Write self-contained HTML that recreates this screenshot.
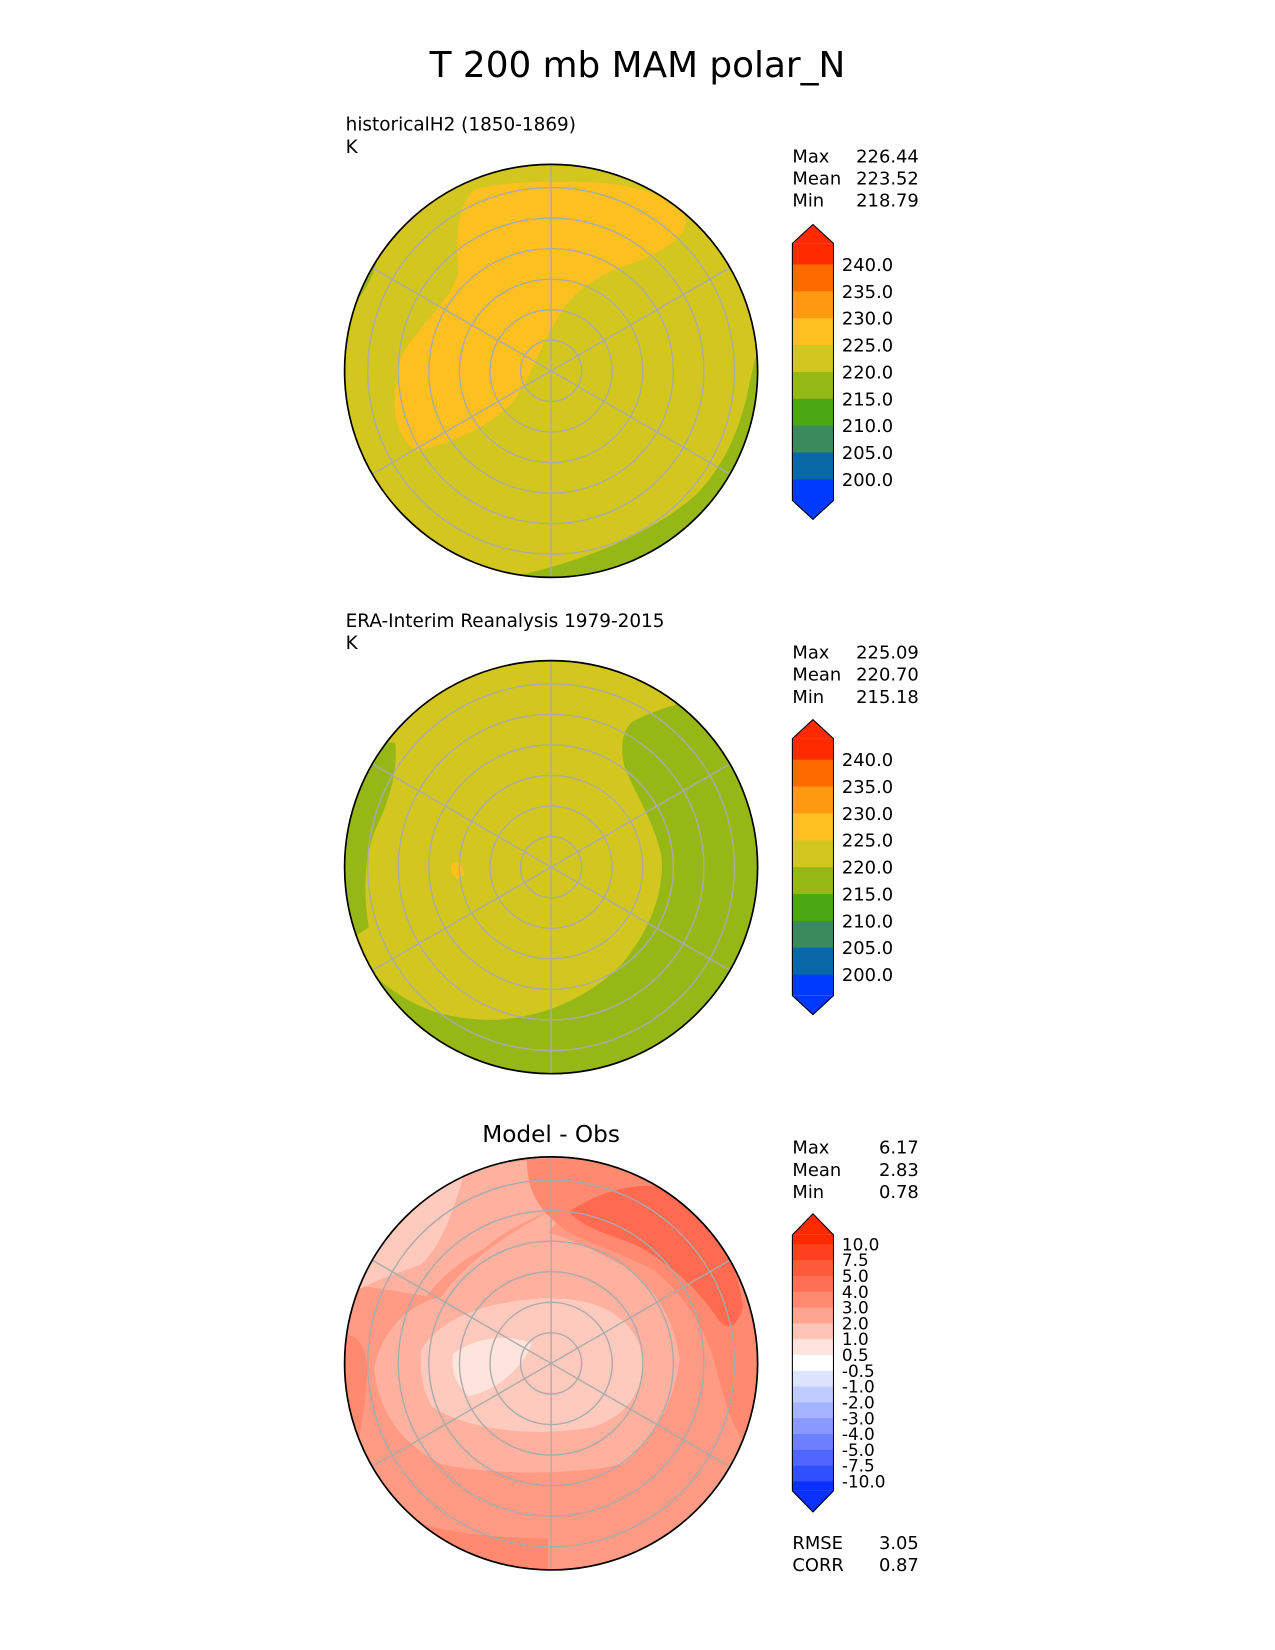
<!DOCTYPE html>
<html><head><meta charset="utf-8"><style>
html,body{margin:0;padding:0;background:#fff}
svg{display:block}
text{font-family:"DejaVu Sans","Liberation Sans",sans-serif;fill:#000}
</style></head><body>
<svg id="fig" width="1275" height="1650" viewBox="0 0 1210 1566" xmlns="http://www.w3.org/2000/svg">
<defs>
<clipPath id="c1"><circle cx="523" cy="352" r="196"/></clipPath>
<clipPath id="c2"><circle cx="523" cy="823" r="196"/></clipPath>
<clipPath id="c3"><circle cx="523" cy="1294" r="196"/></clipPath>
</defs>
<text x="605" y="73" font-size="34" text-anchor="middle">T 200 mb MAM polar_N</text>

<g>
<text x="328" y="124" font-size="17.5">historicalH2 (1850-1869)</text>
<text x="328" y="145" font-size="17.5">K</text>
<g clip-path="url(#c1)">
<rect x="320" y="150" width="410" height="410" fill="#d3c71f"/>
<path fill="#fdc021" d="M380,340 C372,380 370,410 395,428 C430,420 465,405 488,380 C505,355 512,330 530,300 C545,275 565,262 600,250 C630,238 655,225 650,205 C640,185 600,175 560,173 C520,172 480,172 450,180 C435,195 432,220 435,260 C425,290 395,310 380,340Z"/>
<path fill="#96b817" d="M722,320 L722,560 L490,560 L497,545 C560,530 620,505 660,470 C690,440 705,400 712,360Z"/>
<path fill="#96b817" d="M330,250 L360,240 C355,260 348,275 335,290Z"/>
</g>
</g>

<g>
<text x="328" y="595" font-size="17.5">ERA-Interim Reanalysis 1979-2015</text>
<text x="328" y="616" font-size="17.5">K</text>
<g clip-path="url(#c2)">
<rect x="320" y="620" width="410" height="410" fill="#d3c71f"/>
<path fill="#96b817" d="M600,685 C630,670 660,660 730,660 L730,1030 L320,1030 L360,930 C390,955 420,968 470,968 C520,965 560,945 590,915 C615,885 630,850 628,815 C622,780 600,750 592,725 C588,705 592,692 600,685Z"/>
<path fill="#96b817" d="M320,700 L375,705 C378,730 370,760 355,790 C345,820 345,850 350,880 L320,900Z"/>
<path fill="#fdc021" d="M428,822 C432,815 440,820 440,830 C436,838 428,832 428,822Z"/>
</g>
</g>

<g>
<text x="523" y="1084" font-size="22" text-anchor="middle">Model - Obs</text>
<g clip-path="url(#c3)">
<rect x="320" y="1090" width="410" height="410" fill="#ff9b85"/>
<path fill="#ffb1a0" d="M360,1140 C420,1110 480,1100 540,1100 L540,1140 C480,1170 440,1200 420,1230 C380,1240 360,1270 355,1300 C360,1340 380,1370 420,1390 C470,1400 540,1400 590,1390 C620,1370 640,1330 645,1290 C640,1250 620,1220 590,1200 C560,1185 540,1175 520,1170 L545,1140 C520,1150 480,1165 460,1185 C440,1195 420,1210 405,1230 L340,1220Z"/>
<path fill="#ffcabe" d="M350,1150 C380,1130 410,1120 440,1115 C430,1150 420,1180 400,1200 C370,1210 345,1220 330,1230 L330,1170Z"/>
<path fill="#ffcabe" d="M400,1280 C420,1250 460,1235 520,1232 C570,1232 600,1250 610,1285 C612,1320 595,1345 560,1355 C500,1365 440,1355 410,1335 C400,1318 398,1300 400,1280Z"/>
<path fill="#ffe4de" d="M430,1285 C450,1270 480,1265 505,1275 C495,1300 470,1320 445,1325 C432,1315 428,1300 430,1285Z"/>
<path fill="#ff8a70" d="M500,1100 L720,1100 L720,1380 C700,1370 690,1340 680,1300 C670,1260 650,1230 620,1205 C590,1190 560,1180 540,1170 C520,1155 500,1140 500,1100Z"/>
<path fill="#ff6a50" d="M540,1150 C570,1130 610,1118 650,1130 C680,1160 700,1200 705,1240 C700,1260 690,1265 680,1250 C660,1220 630,1195 600,1180 C570,1170 550,1162 540,1150Z"/>
<path fill="#ff8a70" d="M320,1270 C340,1260 350,1280 348,1310 C345,1350 340,1380 325,1400Z"/>
<path fill="#ff8a70" d="M380,1440 C420,1455 470,1460 520,1460 L520,1500 L380,1500Z"/>
</g>
</g>

<g id="grids"></g>
<g id="bars"></g>

<g font-size="17">
<text x="752" y="154">Max</text><text x="872" y="154" text-anchor="end">226.44</text>
<text x="752" y="175">Mean</text><text x="872" y="175" text-anchor="end">223.52</text>
<text x="752" y="196">Min</text><text x="872" y="196" text-anchor="end">218.79</text>
</g>
<g font-size="17">
<text x="752" y="625">Max</text><text x="872" y="625" text-anchor="end">225.09</text>
<text x="752" y="646">Mean</text><text x="872" y="646" text-anchor="end">220.70</text>
<text x="752" y="667">Min</text><text x="872" y="667" text-anchor="end">215.18</text>
</g>
<g font-size="17">
<text x="752" y="1095">Max</text><text x="872" y="1095" text-anchor="end">6.17</text>
<text x="752" y="1116">Mean</text><text x="872" y="1116" text-anchor="end">2.83</text>
<text x="752" y="1137">Min</text><text x="872" y="1137" text-anchor="end">0.78</text>
<text x="752" y="1470">RMSE</text><text x="872" y="1470" text-anchor="end">3.05</text>
<text x="752" y="1491">CORR</text><text x="872" y="1491" text-anchor="end">0.87</text>
</g>
</svg>
<script>
const absLevels = ["240.0","235.0","230.0","225.0","220.0","215.0","210.0","205.0","200.0"];
const absColors = ["#ff2a00","#ff6a00","#ff9a10","#fdc021","#d3c71f","#96b817","#4ba812","#3a8a5e","#0868a6","#0039ff"];
const diffLevels = ["10.0","7.5","5.0","4.0","3.0","2.0","1.0","0.5","-0.5","-1.0","-2.0","-3.0","-4.0","-5.0","-7.5","-10.0"];
const diffColors = ["#ff2a00","#ff4020","#ff5a3c","#ff7055","#ff8a70","#ffa48e","#ffc4b5","#ffe4de","#ffffff","#dde4ff","#c0ccff","#a4b4ff","#8899ff","#6c80ff","#5066ff","#3050ff","#0a30ff"];
const latRings = [10,20,30,40,50,60];
const meridians = [30,90,150,210,270,330];

const NS = "http://www.w3.org/2000/svg";
function mk(tag, attrs, parent){const e=document.createElementNS(NS,tag);for(const k in attrs)e.setAttribute(k,attrs[k]);parent.appendChild(e);return e;}

const grids = document.getElementById('grids');
[352,823,1294].forEach((cy,i)=>{
  const g = mk('g',{},grids);
  
  
  const rOf = d => d*2.9;
  latRings.forEach(d=>{ mk('circle',{cx:523,cy:cy,r:rOf(d),fill:'none',stroke:'#aaaaaa','stroke-width':1.3},g); });
  meridians.forEach(a=>{ const t=a*Math.PI/180; mk('line',{x1:523,y1:cy,x2:523+196*Math.cos(t),y2:cy+196*Math.sin(t),stroke:'#aaaaaa','stroke-width':1.3},g); });
  const b = mk('circle',{cx:523,cy:cy,r:196,fill:'none',stroke:'#000','stroke-width':1.6},g);
  
  
});

const bars = document.getElementById('bars');
function colorbar(name, levels, colors, yTop, yBot, fs, topH, tip){
  const g = mk('g',{},bars);
  
  
  const x0=752, x1=791;
  const n = levels.length;
  const step = (yBot - yTop)/(n-1);
  const y = i => yTop + i*step;
  const top = y(0)-topH, bot = y(n-1)+topH;
  mk('path',{d:`M${x0},${top} L${(x0+x1)/2},${top-tip} L${x1},${top} Z`,fill:colors[0]},g);
  mk('rect',{x:x0,y:top,width:x1-x0,height:topH+0.5,fill:colors[0]},g);
  for(let i=0;i<n-1;i++) mk('rect',{x:x0,y:y(i),width:x1-x0,height:step+0.5,fill:colors[i+1]},g);
  const last=colors[colors.length-1];
  mk('rect',{x:x0,y:y(n-1),width:x1-x0,height:topH,fill:last},g);
  mk('path',{d:`M${x0},${bot} L${(x0+x1)/2},${bot+tip} L${x1},${bot} Z`,fill:last},g);
  mk('path',{d:`M${x0},${top} L${(x0+x1)/2},${top-tip} L${x1},${top} L${x1},${bot} L${(x0+x1)/2},${bot+tip} L${x0},${bot} Z`,fill:'none',stroke:'#000','stroke-width':1},g);
  levels.forEach((l,i)=>{
    const t = mk('text',{x:x1+8,y:y(i)+fs*0.36,'font-size':fs},g);
    t.textContent=l;
    
    
  });
}
colorbar('colorbar-model', absLevels, absColors, 251, 455, 17, 20, 18);
colorbar('colorbar-obs', absLevels, absColors, 721, 925, 17, 20, 18);
colorbar('colorbar-diff', diffLevels, diffColors, 1181, 1406, 16, 9, 20);
</script>
</body></html>
